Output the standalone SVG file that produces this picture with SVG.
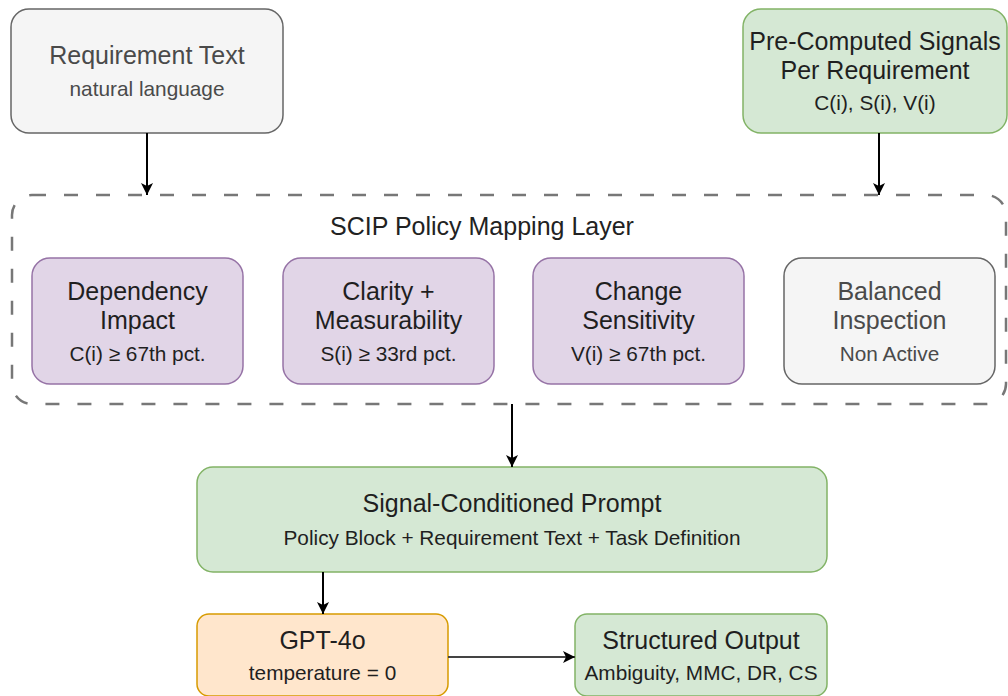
<svg xmlns="http://www.w3.org/2000/svg" width="1008" height="696" viewBox="0 0 1008 696">
<defs>
<marker id="arr" markerUnits="userSpaceOnUse" markerWidth="14" markerHeight="14" refX="12" refY="6" orient="auto">
<path d="M0,0 L12,6 L0,12 L3,6 Z" fill="#000"/>
</marker>
<style>
text{font-family:"Liberation Sans",Arial,sans-serif;text-anchor:middle}
.t{font-size:25px;fill:#1f1f1f}
.s{font-size:20.8px;fill:#1f1f1f}
.g .t,.g .s{fill:#4a4a4a}
.gray{fill:#f5f5f5;stroke:#666;stroke-width:1.5}
.green{fill:#d5e8d4;stroke:#82b366;stroke-width:1.5}
.purple{fill:#e1d5e7;stroke:#9673a6;stroke-width:1.5}
.orange{fill:#ffe6cc;stroke:#d79b00;stroke-width:1.5}
.edge{fill:none;stroke:#000;stroke-width:2;marker-end:url(#arr)}
</style>
</defs>
<rect width="1008" height="696" fill="#fff"/>

<g id="container">
<rect x="12" y="195" width="994" height="209" rx="20" fill="none" stroke="#777" stroke-width="2.5" stroke-dasharray="14 18"/>
<text x="482" y="235" style="font-size:25px;fill:#222">SCIP Policy Mapping Layer</text>
</g>

<g id="requirement-text" class="g">
<rect class="gray" x="11" y="9" width="272" height="124" rx="18"/>
<text class="t" x="147" y="64">Requirement Text</text>
<text class="s" x="147" y="96">natural language</text>
</g>

<g id="precomputed">
<rect class="green" x="743" y="9" width="264" height="124" rx="18"/>
<text class="t" x="875" y="50">Pre-Computed Signals</text>
<text class="t" x="875" y="79">Per Requirement</text>
<text class="s" x="875" y="110">C(i), S(i), V(i)</text>
</g>

<g id="dependency">
<rect class="purple" x="32" y="258" width="211" height="126" rx="18"/>
<text class="t" x="137.5" y="300">Dependency</text>
<text class="t" x="137.5" y="329">Impact</text>
<text class="s" x="137.5" y="361">C(i) ≥ 67th pct.</text>
</g>

<g id="clarity">
<rect class="purple" x="283" y="258" width="211" height="126" rx="18"/>
<text class="t" x="388.5" y="300">Clarity +</text>
<text class="t" x="388.5" y="329">Measurability</text>
<text class="s" x="388.5" y="361">S(i) ≥ 33rd pct.</text>
</g>

<g id="change">
<rect class="purple" x="533" y="258" width="211" height="126" rx="18"/>
<text class="t" x="638.5" y="300">Change</text>
<text class="t" x="638.5" y="329">Sensitivity</text>
<text class="s" x="638.5" y="361">V(i) ≥ 67th pct.</text>
</g>

<g id="balanced" class="g">
<rect class="gray" x="784" y="258" width="211" height="126" rx="18"/>
<text class="t" x="889.5" y="300">Balanced</text>
<text class="t" x="889.5" y="329">Inspection</text>
<text class="s" x="889.5" y="361">Non Active</text>
</g>

<g id="prompt">
<rect class="green" x="197" y="467" width="630" height="105" rx="16"/>
<text class="t" x="512" y="512">Signal-Conditioned Prompt</text>
<text class="s" x="512" y="545">Policy Block + Requirement Text + Task Definition</text>
</g>

<g id="gpt">
<rect class="orange" x="197" y="614" width="251" height="82" rx="12"/>
<text class="t" x="322.5" y="649">GPT-4o</text>
<text class="s" x="322.5" y="680">temperature = 0</text>
</g>

<g id="output">
<rect class="green" x="575" y="614" width="252" height="82" rx="12"/>
<text class="t" x="701" y="649">Structured Output</text>
<text class="s" x="701" y="680">Ambiguity, MMC, DR, CS</text>
</g>

<g id="connectors">
<path class="edge" d="M147,133 L147,195"/>
<path class="edge" d="M879,133 L879,195"/>
<path class="edge" d="M512,404 L512,467"/>
<path class="edge" d="M323,572 L323,614"/>
<path class="edge" d="M448,657 L575,657" style="stroke:#444"/>
</g>
</svg>
